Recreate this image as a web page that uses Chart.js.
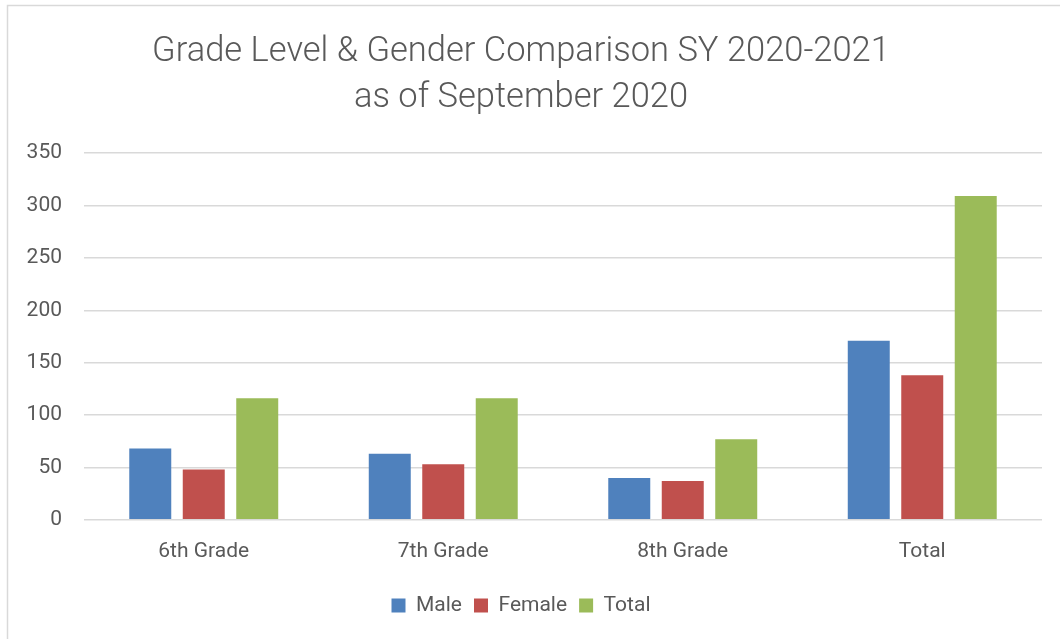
<!DOCTYPE html>
<html>
<head>
<meta charset="utf-8">
<script src="https://cdn.jsdelivr.net/npm/chart.js@4"></script>
<style>
    html, body { margin: 0; padding: 0; background: #ffffff; }
    #wrap { position: relative; width: 1060px; height: 639px; }
</style>
</head>
<body>
<div id="wrap"><canvas id="grados"></canvas></div>
<script>
//DATOS
const grados = ['6th Grade', '7th Grade', '8th Grade', 'Total'];
const male = [68, 63, 40, 171];
const female = [48, 53, 37, 138];
const total = [116, 116, 77, 309];
const titulo = ['Grade Level & Gender Comparison SY 2020-2021', 'as of September 2020'];

const gris = '#595959';
const fuente = 'Roboto, "Liberation Sans", sans-serif';

//BORDE DEL GRAFICO
const borde = {
    id: 'borde',
    beforeDraw(chart) {
        const ctx = chart.ctx;
        ctx.save();
        ctx.strokeStyle = '#d9d9d9';
        ctx.lineWidth = 1.5;
        ctx.strokeRect(7.5, 5.5, 1200, 800);
        ctx.restore();
    }
};

const ctx = document.getElementById('grados').getContext('2d');
const chartGrados = new Chart(ctx, {
    type: 'bar',
    plugins: [borde],
    data: {
        labels: grados,
        datasets: [
            { label: 'Male', data: male, backgroundColor: '#4F81BD' },
            { label: 'Female', data: female, backgroundColor: '#C0504D' },
            { label: 'Total', data: total, backgroundColor: '#9BBB59' }
        ]
    },
    options: {
        responsive: true,
        maintainAspectRatio: false,
        animation: false,
        barPercentage: 0.785,
        categoryPercentage: 0.67,
        layout: {
            padding: { left: 0, right: 18, top: 0, bottom: 13 }
        },
        scales: {
            x: {
                grid: { display: false, drawTicks: false },
                border: { display: false },
                ticks: {
                    color: gris,
                    padding: 19,
                    font: { family: fuente, size: 21 }
                }
            },
            y: {
                min: 0,
                max: 350,
                afterFit: function (scale) { scale.width = 84; },
                grid: {
                    color: '#d9d9d9',
                    lineWidth: 1.5,
                    drawTicks: false
                },
                border: { display: false },
                ticks: {
                    stepSize: 50,
                    color: gris,
                    padding: 22,
                    font: { family: fuente, size: 21 }
                }
            }
        },
        plugins: {
            legend: {
                display: true,
                position: 'bottom',
                labels: {
                    color: gris,
                    boxWidth: 14,
                    boxHeight: 14,
                    padding: 12,
                    font: { family: fuente, size: 21 }
                }
            },
            title: {
                display: true,
                text: titulo,
                color: gris,
                padding: { top: 29, bottom: 31 },
                font: { family: fuente, size: 34.5, weight: '300', lineHeight: 1.35 }
            },
            tooltip: { enabled: false }
        }
    }
});
</script>
</body>
</html>
